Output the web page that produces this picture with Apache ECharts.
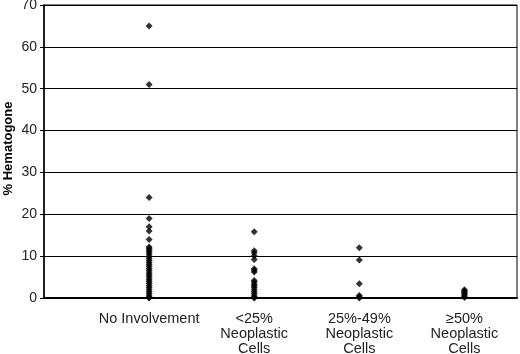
<!DOCTYPE html>
<html style="height: 100%">

<head>
    <meta charset="utf-8">
    <title>% Hematogone</title>
    <script type="text/javascript" src="https://cdn.jsdelivr.net/npm/echarts@6/dist/echarts.min.js"></script>
</head>

<body style="height: 100%; margin: 0; background: #fff">
    <div id="container" style="width: 520px; height: 354px"></div>

    <script type="text/javascript">
        // 分组标签
        var categories = ['No Involvement', '<25%\nNeoplastic\nCells', '25%-49%\nNeoplastic\nCells', '≥50%\nNeoplastic\nCells'];

        // 各组数值（% Hematogone）
        var noInvolvement = [65, 51, 24, 19, 17, 16, 14, 12.2, 11.8, 11.4, 11, 10.5, 10, 9.5, 9, 8.5, 8, 7.5, 7, 6.5,
            6, 5.5, 5, 4.5, 4, 3.5, 3, 2.5, 2, 1.5, 1, 0.5, 0.2, 0];
        var lt25 = [15.8, 11.3, 10.8, 10.1, 9.2, 7, 6.6, 6.2, 4.2, 3.8, 3.3, 2.9, 2.5, 2, 1.5, 1, 0.5, 0.2, 0];
        var from25to49 = [12, 9.1, 3.4, 0.6, 0.3, 0];
        var ge50 = [2, 1.7, 1.4, 1.1, 0.7, 0.4, 0.1];

        var groups = [noInvolvement, lt25, from25to49, ge50];

        var points = [];
        for (var g = 0; g < groups.length; g++) {
            for (var k = 0; k < groups[g].length; k++) {
                points.push([g + 1, groups[g][k]]);
            }
        }

        var myChart = echarts.init(document.getElementById('container'));
        var option = {
            animation: false,
            grid: {
                left: 44,
                right: 3,
                top: 5,
                bottom: 56,
                outerBoundsMode: 'none',
                containLabel: false,
                show: true,
                borderColor: '#000',
                borderWidth: 1
            },
            xAxis: {
                type: 'value',
                min: 0,
                max: 4.5,
                interval: 1,
                axisLine: { show: true, onZero: false, lineStyle: { color: '#000', width: 2 } },
                axisTick: { show: false },
                splitLine: { show: false },
                axisLabel: {
                    showMaxLabel: false,
                    margin: 13,
                    color: '#222',
                    fontFamily: 'Liberation Sans',
                    fontSize: 14.5,
                    lineHeight: 15,
                    formatter: function (v) {
                        return (v >= 1 && v <= 4 && v % 1 === 0) ? categories[v - 1] : '';
                    }
                }
            },
            yAxis: {
                type: 'value',
                min: 0,
                max: 70,
                interval: 10,
                name: '% Hematogone',
                nameLocation: 'middle',
                nameGap: 29,
                nameMoveOverlap: false,
                nameTextStyle: {
                    color: '#000',
                    fontFamily: 'Liberation Sans',
                    fontWeight: 'bold',
                    fontSize: 13,
                    padding: [0, 0, 0, 6]
                },
                axisLine: { show: true, lineStyle: { color: '#000', width: 1.5 } },
                axisTick: { show: true, inside: false, length: 4, lineStyle: { color: '#000' } },
                splitLine: { show: true, lineStyle: { color: '#000', width: 1 } },
                axisLabel: {
                    margin: 7,
                    color: '#222',
                    fontFamily: 'Liberation Sans',
                    fontSize: 14
                }
            },
            series: [{
                type: 'scatter',
                symbol: 'diamond',
                symbolSize: 7,
                itemStyle: { color: '#000' },
                data: points
            }]
        };
        myChart.setOption(option, true);
    </script>
</body>

</html>
